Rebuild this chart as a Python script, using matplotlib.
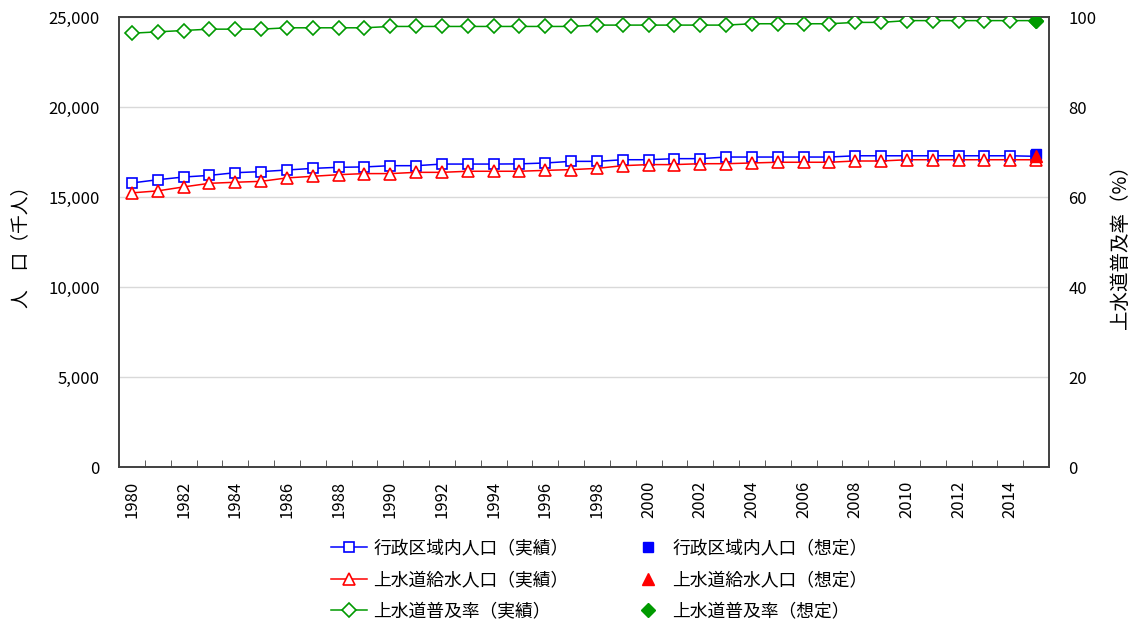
import matplotlib
matplotlib.use("Agg")
import matplotlib.pyplot as plt
from matplotlib.ticker import FuncFormatter, MultipleLocator

plt.rcParams['font.family'] = ['Noto Sans CJK JP', 'DejaVu Sans']

years = list(range(1980, 2016))
admin_pop = [15780, 15960, 16110, 16200, 16350, 16410, 16500, 16590, 16650, 16670,
             16740, 16740, 16830, 16830, 16830, 16840, 16890, 16980, 16980, 17070,
             17070, 17130, 17130, 17220, 17220, 17220, 17220, 17220, 17290, 17290,
             17290, 17290, 17290, 17290, 17290, 17260]
supply_pop = [15230, 15340, 15560, 15760, 15820, 15870, 16060, 16150, 16240, 16300,
              16300, 16370, 16370, 16430, 16430, 16430, 16480, 16520, 16590, 16740,
              16800, 16800, 16850, 16850, 16890, 16930, 16930, 16930, 17000, 17000,
              17070, 17070, 17070, 17070, 17070, 17070]
coverage = [96.4, 96.7, 97.0, 97.3, 97.3, 97.3, 97.6, 97.6, 97.6, 97.6,
            97.9, 97.9, 97.9, 97.9, 97.9, 97.9, 97.9, 97.9, 98.2, 98.2,
            98.2, 98.2, 98.2, 98.2, 98.5, 98.5, 98.5, 98.5, 98.8, 98.8,
            99.2, 99.2, 99.2, 99.2, 99.2, 99.2]
proj_year = [2015]
admin_proj = [17400]
supply_proj = [17260]
coverage_proj = [99.2]

labels = ['行政区域内人口（実績）', '上水道給水人口（実績）', '上水道普及率（実績）',
          '行政区域内人口（想定）', '上水道給水人口（想定）', '上水道普及率（想定）']

BLUE = '#0000FF'
RED = '#FF0000'
GREEN = '#009A00'
SPINE = '#404040'

fig = plt.figure(figsize=(11.37, 6.28), dpi=100)
ax = fig.add_axes([119/1137, 1-467/628, (1049-119)/1137, (467-17)/628])
ax2 = ax.twinx()

h1, = ax.plot(years, admin_pop, color=BLUE, lw=1.1, marker='s', ms=7.5,
              mfc='white', mec=BLUE, mew=1.2, zorder=3)
h2, = ax.plot(years, supply_pop, color=RED, lw=1.1, marker='^', ms=8.5,
              mfc='white', mec=RED, mew=1.2, zorder=3)
h4, = ax.plot(proj_year, admin_proj, ls='none', marker='s', ms=7.5, color=BLUE, zorder=4)
h5, = ax.plot(proj_year, supply_proj, ls='none', marker='^', ms=8.5, color=RED, zorder=5)
h3, = ax2.plot(years, coverage, color=GREEN, lw=1.1, marker='D', ms=7,
               mfc='white', mec=GREEN, mew=1.2, zorder=3)
h6, = ax2.plot(proj_year, coverage_proj, ls='none', marker='D', ms=7, color=GREEN, zorder=4)

ax.set_xlim(1979.5, 2015.5)
ax.set_ylim(0, 25000)
ax2.set_ylim(0, 100)

ax.yaxis.set_major_locator(MultipleLocator(5000))
ax.yaxis.set_major_formatter(FuncFormatter(lambda v, p: f'{int(v):,}'))
ax2.yaxis.set_major_locator(MultipleLocator(20))
ax.grid(axis='y', color='#D9D9D9', lw=1)
ax.set_axisbelow(True)

ax.set_xticks(list(range(1980, 2015, 2)))
ax.set_xticklabels([str(y) for y in range(1980, 2015, 2)], rotation=90)
ax.set_xticks([y - 0.5 for y in years] + [2015.5], minor=True)
ax.tick_params(axis='x', which='major', length=0, pad=10, labelsize=12)
ax.tick_params(axis='x', which='minor', direction='in', length=5, color=SPINE)
ax.tick_params(axis='y', length=0, pad=14, labelsize=12)
ax2.tick_params(axis='y', length=0, pad=14, labelsize=12)

for a in (ax, ax2):
    for s in a.spines.values():
        s.set_color(SPINE)
        s.set_linewidth(1.2)

ax.set_ylabel('人　口（千人）', fontsize=13.5, labelpad=12)
ax2.set_ylabel('上水道普及率（%）', fontsize=14, labelpad=10, rotation=90)

fig.legend([h1, h2, h3, h4, h5, h6], labels, ncol=2, loc='center',
           bbox_to_anchor=(599/1137, 1-580/628), frameon=False, fontsize=12.8,
           handlelength=2.08, handletextpad=0.34, columnspacing=3.4,
           labelspacing=0.76)

fig.savefig('out.png', dpi=100)
